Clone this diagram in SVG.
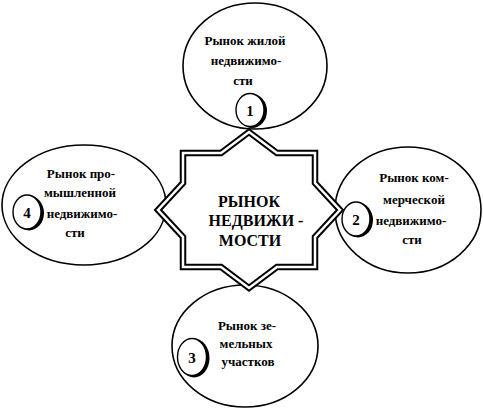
<svg xmlns="http://www.w3.org/2000/svg" width="483" height="412" viewBox="0 0 483 412">
<style>
.big{fill:#fff;stroke:#000;stroke-width:1.6}
.sh{fill:#000}
.num{fill:#fff;stroke:#000;stroke-width:1.4}
.t{font-family:"Liberation Serif","DejaVu Serif",serif;font-weight:bold;font-size:13px;fill:#000;text-anchor:middle}
.n{font-family:"Liberation Serif","DejaVu Serif",serif;font-weight:bold;font-size:15px;fill:#000;text-anchor:middle}
.c{font-family:"Liberation Serif","DejaVu Serif",serif;font-weight:bold;font-size:16px;fill:#000;text-anchor:middle}
</style>
<rect width="483" height="412" fill="#fff"/>
<g id="node-residential">
<ellipse class="big" cx="255" cy="66" rx="72" ry="63"/>
<text class="t" x="245" y="45">Рынок жилой</text>
<text class="t" x="246" y="65">недвижимо-</text>
<text class="t" x="243" y="85">сти</text>
<ellipse class="sh" cx="252" cy="111" rx="15" ry="17"/>
<ellipse class="num" cx="250" cy="110" rx="14" ry="16.5"/>
<text class="n" x="250" y="116">1</text>
</g>
<g id="node-commercial">
<ellipse class="big" cx="408" cy="210" rx="73" ry="63"/>
<text class="t" x="414" y="182">Рынок ком-</text>
<text class="t" x="414" y="204">мерческой</text>
<text class="t" x="411" y="225">недвижимо-</text>
<text class="t" x="412" y="244">сти</text>
<ellipse class="sh" cx="358" cy="220" rx="15" ry="17.5"/>
<ellipse class="num" cx="356" cy="219" rx="14" ry="17"/>
<text class="n" x="356" y="225">2</text>
</g>
<g id="node-land">
<ellipse class="big" cx="245" cy="346" rx="73" ry="61"/>
<text class="t" x="247" y="330">Рынок зе-</text>
<text class="t" x="246" y="348">мельных</text>
<text class="t" x="248" y="366">участков</text>
<ellipse class="sh" cx="194" cy="358" rx="15.5" ry="19.5"/>
<ellipse class="num" cx="192" cy="357" rx="14.5" ry="18.5"/>
<text class="n" x="192" y="363">3</text>
</g>
<g id="node-industrial">
<ellipse class="big" cx="84" cy="205" rx="82" ry="60"/>
<text class="t" x="81" y="178">Рынок про-</text>
<text class="t" x="80" y="197">мышленной</text>
<text class="t" x="82" y="218">недвижимо-</text>
<text class="t" x="75" y="237">сти</text>
<ellipse class="sh" cx="29" cy="213" rx="15" ry="17.5"/>
<ellipse class="num" cx="27" cy="212" rx="14" ry="17"/>
<text class="n" x="27" y="218">4</text>
</g>
<g id="node-center">
<polygon points="249,132 277,153 315,153 315,183 340,210 315,237 315,267 277,267 249,288 221,267 183,267 183,237 158,210 183,183 183,153 221,153" fill="#fff" stroke="#000" stroke-width="6.5"/>
<polygon points="249,132 277,153 315,153 315,183 340,210 315,237 315,267 277,267 249,288 221,267 183,267 183,237 158,210 183,183 183,153 221,153" fill="none" stroke="#fff" stroke-width="2.5"/>
<text class="c" x="249" y="207">РЫНОК</text>
<text class="c" x="256" y="226">НЕДВИЖИ -</text>
<text class="c" x="250" y="246">МОСТИ</text>
</g>
<g id="connectors"></g>
</svg>
